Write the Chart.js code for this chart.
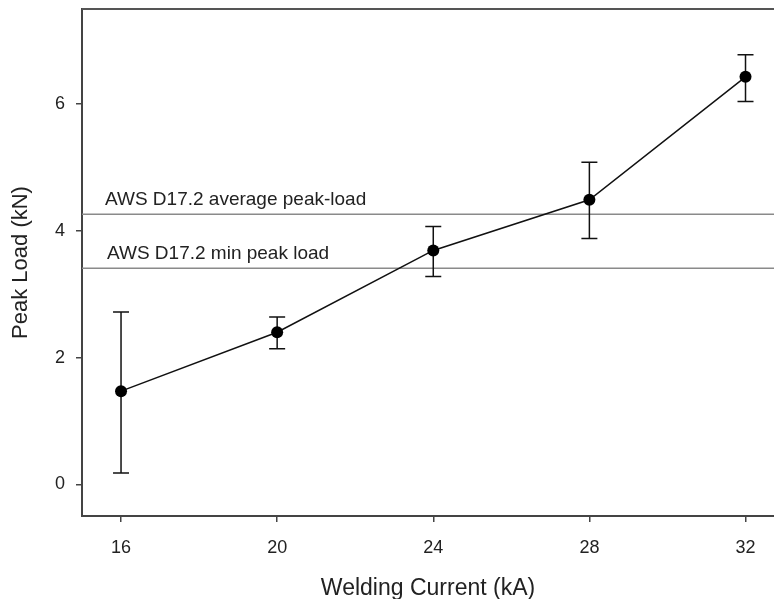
<!DOCTYPE html>
<html>
<head>
<meta charset="utf-8">
<script src="https://cdn.jsdelivr.net/npm/chart.js@4/dist/chart.umd.min.js"></script>
<style>
  html, body { margin: 0; padding: 0; background: #fff; }
  #wrap { width: 774px; height: 599px; }
</style>
</head>
<body>
<div id="wrap"><canvas id="chart" width="774" height="599"></canvas></div>
<script>
const currents = [16, 20, 24, 28, 32];
const peakLoad = [1.47, 2.40, 3.69, 4.49, 6.43];
const errLow = [0.18, 2.14, 3.28, 3.88, 6.04];
const errHigh = [2.72, 2.64, 4.07, 5.08, 6.78];
const xTicks = [16, 20, 24, 28, 32];
const yTicks = [0, 2, 4, 6];
const refLabels = [`AWS D17.2 average peak-load`, `AWS D17.2 min peak load`];
const refValues = [4.26, 3.41];

const FONT = `"Liberation Sans", Arial, sans-serif`;
const AXIS_COLOR = `#444`;

// error bars + reference lines + top frame
const extras = {
  id: `extras`,
  beforeDatasetsDraw(chart) {
    const {ctx, chartArea, scales: {x, y}} = chart;
    ctx.save();
    ctx.strokeStyle = `#8a8a8a`;
    ctx.lineWidth = 1.5;
    ctx.fillStyle = `#222`;
    ctx.font = `19px ${FONT}`;
    ctx.textBaseline = `alphabetic`;
    refValues.forEach((v, i) => {
      const py = y.getPixelForValue(v);
      ctx.beginPath();
      ctx.moveTo(chartArea.left, py);
      ctx.lineTo(chartArea.right, py);
      ctx.stroke();
      ctx.fillText(refLabels[i], chartArea.left + 23 + (i ? 2 : 0), py - 9);
    });

    ctx.strokeStyle = `#555`;
    ctx.lineWidth = 2;
    ctx.beginPath();
    ctx.moveTo(chartArea.left, chartArea.top);
    ctx.lineTo(chartArea.right, chartArea.top);
    ctx.stroke();

    ctx.strokeStyle = `#111`;
    ctx.lineWidth = 1.5;
    currents.forEach((c, i) => {
      const px = x.getPixelForValue(c);
      const lo = y.getPixelForValue(errLow[i]);
      const hi = y.getPixelForValue(errHigh[i]);
      ctx.beginPath();
      ctx.moveTo(px, lo);
      ctx.lineTo(px, hi);
      ctx.moveTo(px - 8, lo);
      ctx.lineTo(px + 8, lo);
      ctx.moveTo(px - 8, hi);
      ctx.lineTo(px + 8, hi);
      ctx.stroke();
    });
    ctx.restore();
  }
};

const noPad = (s) => {
  s.paddingTop = 0;
  s.paddingBottom = 0;
  s.paddingLeft = 0;
  s.paddingRight = 0;
};

new Chart(document.getElementById(`chart`), {
  type: `scatter`,
  plugins: [extras],
  data: {
    datasets: [{
      data: currents.map((c, i) => ({x: c, y: peakLoad[i]})),
      showLine: true,
      borderColor: `#111`,
      borderWidth: 1.5,
      backgroundColor: `#000`,
      pointRadius: 6,
      pointBorderWidth: 0,
      clip: false
    }]
  },
  options: {
    responsive: false,
    animation: false,
    layout: {autoPadding: false, padding: {top: 9, right: 0, left: 0, bottom: 0}},
    plugins: {legend: {display: false}, tooltip: {enabled: false}},
    scales: {
      x: {
        type: `linear`,
        min: 15,
        max: 32.73,
        afterBuildTicks: (s) => { s.ticks = xTicks.map((v) => ({value: v})); },
        afterFit: (s) => { s.height = 83; noPad(s); },
        grid: {drawOnChartArea: false, drawTicks: true, tickLength: 6, color: AXIS_COLOR, lineWidth: 1.5},
        border: {display: true, color: AXIS_COLOR, width: 2},
        ticks: {color: `#222`, font: {size: 18, family: FONT}, padding: 15, maxRotation: 0},
        title: {display: true, text: `Welding Current (kA)`, color: `#222`, font: {size: 23, family: FONT}, padding: {top: 8, bottom: -3}}
      },
      y: {
        type: `linear`,
        min: -0.5,
        max: 7.5,
        afterBuildTicks: (s) => { s.ticks = yTicks.map((v) => ({value: v})); },
        afterFit: (s) => { s.width = 82; noPad(s); },
        grid: {drawOnChartArea: false, drawTicks: true, tickLength: 6, color: AXIS_COLOR, lineWidth: 1.5},
        border: {display: true, color: AXIS_COLOR, width: 2},
        ticks: {color: `#222`, font: {size: 18, family: FONT}, padding: 11},
        title: {display: true, text: `Peak Load (kN)`, color: `#222`, font: {size: 22, family: FONT}, padding: {top: 8, bottom: 0}}
      }
    }
  }
});
</script>
</body>
</html>
